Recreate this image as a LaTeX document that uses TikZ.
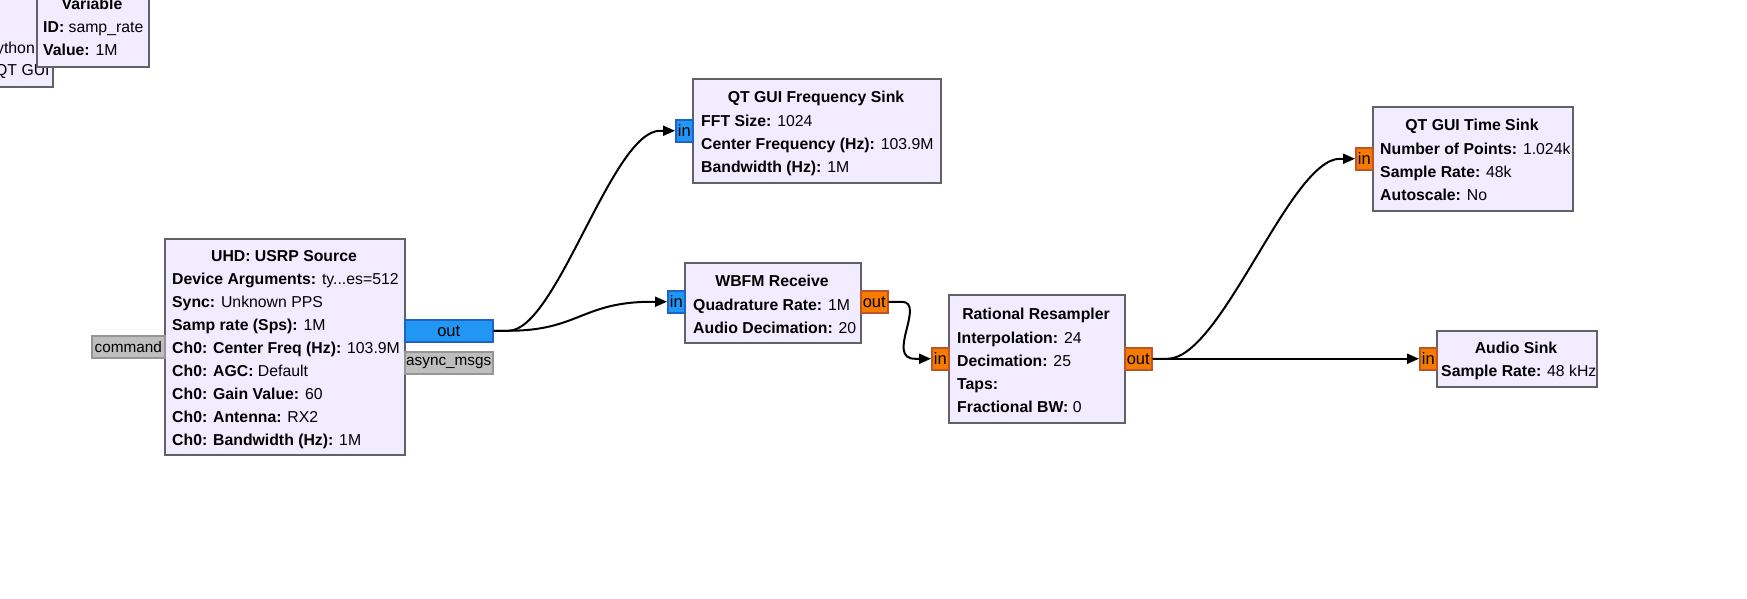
\documentclass[tikz,border=0pt]{standalone}
\usepackage{fontspec}
\setmainfont{Liberation Sans}
\usetikzlibrary{arrows.meta}

\definecolor{blockfill}{RGB}{241,236,255}
\definecolor{blockline}{RGB}{97,97,102}
\definecolor{cplxfill}{RGB}{33,150,243}
\definecolor{cplxline}{RGB}{28,100,200}
\definecolor{floatfill}{RGB}{245,124,0}
\definecolor{floatline}{RGB}{190,85,40}
\definecolor{msgfill}{RGB}{190,190,190}
\definecolor{msgline}{RGB}{150,150,150}

\tikzset{
  blockbox/.style={draw=blockline, fill=blockfill, line width=2pt, inner sep=0pt, anchor=north west},
  blocktitle/.style={font=\fontsize{15.8}{23}\selectfont\bfseries, inner sep=0pt, anchor=base},
  blockparams/.style={font=\fontsize{15.8}{23}\selectfont, align=left, inner sep=0pt, anchor=north west},
  port/.style={line width=1.5pt, inner sep=0pt, minimum height=22, font=\fontsize{16.5}{18}\selectfont, anchor=north west},
  cplxport/.style={port, draw=cplxline, fill=cplxfill},
  floatport/.style={port, draw=floatline, fill=floatfill},
  msgport/.style={port, draw=msgline, fill=msgfill, font=\fontsize{15.3}{18}\selectfont},
  wire/.style={line width=2pt, -{Triangle[length=12pt,width=10pt]}}
}

\begin{document}
\begin{tikzpicture}[x=1pt, y=-1pt]
\useasboundingbox (0,0) rectangle (1747,598);

% options block, cut off at the corner
\node[blockbox, minimum width=272, minimum height=106] (opts) at (-220,-20) {};
\node[blockparams, anchor=base east] (opts-lang) at (35,53) {Python};
\node[blockparams, anchor=base west] (opts-gen) at (-5,75) {QT GUI};

% variable
\node[blockbox, minimum width=112, minimum height=86] (var) at (36,-20) {};
\node[blocktitle] (var-title) at (92,9) {Variable};
\node[blockparams] (var-p) at (43,16) {\rule{0pt}{16pt}\textbf{ID:} samp\_rate\\ \textbf{Value:} 1M};

% source
\node[blockbox, minimum width=240, minimum height=216] (usrp) at (164,238) {};
\node[blocktitle] (usrp-title) at (284,261) {UHD: USRP Source};
\node[blockparams] (usrp-p) at (172,268) {\rule{0pt}{16pt}\textbf{Device Arguments:} ty...es=512\\
  \textbf{Sync:} Unknown PPS\\
  \textbf{Samp rate (Sps):} 1M\\
  \textbf{Ch0: Center Freq (Hz):} 103.9M\\
  \textbf{Ch0: AGC:} Default\\
  \textbf{Ch0: Gain Value:} 60\\
  \textbf{Ch0: Antenna:} RX2\\
  \textbf{Ch0: Bandwidth (Hz):} 1M};
\node[cplxport, minimum width=88] (usrp-out) at (404,319) {out};
\node[msgport, minimum width=88] (usrp-async) at (404,351) {async\_msgs};
\node[msgport, minimum width=73] (usrp-cmd) at (91,335) {command};

% frequency sink
\node[blockbox, minimum width=248, minimum height=104] (freq) at (692,78) {};
\node[blocktitle] (freq-title) at (816,102) {QT GUI Frequency Sink};
\node[blockparams] (freq-p) at (701,110) {\rule{0pt}{16pt}\textbf{FFT Size:} 1024\\
  \textbf{Center Frequency (Hz):} 103.9M\\
  \textbf{Bandwidth (Hz):} 1M};
\node[cplxport, minimum width=17] (freq-in) at (675,119) {in};

% fm demod
\node[blockbox, minimum width=176, minimum height=80] (wbfm) at (684,262) {};
\node[blocktitle] (wbfm-title) at (772,286) {WBFM Receive};
\node[blockparams] (wbfm-p) at (693,294) {\rule{0pt}{16pt}\textbf{Quadrature Rate:} 1M\\
  \textbf{Audio Decimation:} 20};
\node[cplxport, minimum width=17] (wbfm-in) at (667,290) {in};
\node[floatport, minimum width=27] (wbfm-out) at (860,290) {out};

% resampler
\node[blockbox, minimum width=176, minimum height=128] (rs) at (948,294) {};
\node[blocktitle] (rs-title) at (1036,319) {Rational Resampler};
\node[blockparams] (rs-p) at (957,327) {\rule{0pt}{16pt}\textbf{Interpolation:} 24\\
  \textbf{Decimation:} 25\\
  \textbf{Taps:}\\
  \textbf{Fractional BW:} 0};
\node[floatport, minimum width=17] (rs-in) at (931,347) {in};
\node[floatport, minimum width=27] (rs-out) at (1124,347) {out};

% time sink
\node[blockbox, minimum width=200, minimum height=104] (time) at (1372,106) {};
\node[blocktitle] (time-title) at (1472,130) {QT GUI Time Sink};
\node[blockparams] (time-p) at (1380,138) {\rule{0pt}{16pt}\textbf{Number of Points:} 1.024k\\
  \textbf{Sample Rate:} 48k\\
  \textbf{Autoscale:} No};
\node[floatport, minimum width=17] (time-in) at (1355,147) {in};

% audio sink
\node[blockbox, minimum width=160, minimum height=56] (audio) at (1436,330) {};
\node[blocktitle] (audio-title) at (1516,353) {Audio Sink};
\node[blockparams] (audio-p) at (1441,360) {\rule{0pt}{16pt}\textbf{Sample Rate:} 48 kHz};
\node[floatport, minimum width=17] (audio-in) at (1419,347) {in};

% connections
\draw[wire] (usrp-out.east) -- ++(15,0) .. controls +(48,0) and +(-48,0) .. ([xshift=-15pt]freq-in.west) -- (freq-in.west);
\draw[wire] (usrp-out.east) -- ++(15,0) .. controls +(70,0) and +(-70,0) .. ([xshift=-15pt]wbfm-in.west) -- (wbfm-in.west);
\draw[wire] (wbfm-out.east) -- ++(13,0) .. controls +(25,0) and +(-30,0) .. ([xshift=-16pt]rs-in.west) -- (rs-in.west);
\draw[wire] (rs-out.east) -- (audio-in.west);
\draw[wire] (rs-out.east) -- ++(15,0) .. controls +(54,0) and +(-50,0) .. ([xshift=-15pt]time-in.west) -- (time-in.west);
\end{tikzpicture}
\end{document}
